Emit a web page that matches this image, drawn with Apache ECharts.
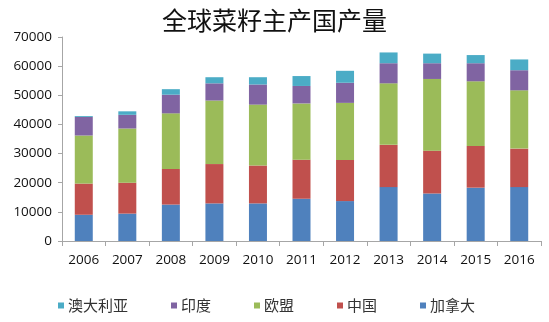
<!DOCTYPE html>
<html><head><meta charset="utf-8">
<script src="https://cdn.jsdelivr.net/npm/echarts@6/dist/echarts.min.js"></script>
<style>html,body{margin:0;padding:0;background:#fff}#c{width:549px;height:322px}</style>
</head><body><div id="c"></div>
<script>
const categories = ['2006','2007','2008','2009','2010','2011','2012','2013','2014','2015','2016'];
const canada    = [9000, 9400, 12500, 12900, 12900, 14500, 13700, 18500, 16300, 18300, 18500];
const china     = [10700, 10600, 12200, 13500, 13000, 13400, 14100, 14500, 14700, 14300, 13200];
const eu        = [16500, 18600, 19100, 21800, 20900, 19300, 19600, 21100, 24600, 22200, 20000];
const india     = [6400, 4700, 6400, 5900, 6900, 6000, 6900, 6900, 5400, 6200, 6900];
const australia = [300, 1200, 1900, 2100, 2500, 3400, 4100, 3700, 3300, 2800, 3700];
const yTicks = [0, 10000, 20000, 30000, 40000, 50000, 60000, 70000];

const chart = echarts.init(document.getElementById('c'));
const font = '"Open Sans", "Liberation Sans", "Noto Sans CJK SC", sans-serif';
function s(name, data, color){
  return {name, type:'bar', stack:'total', data, barWidth:18, itemStyle:{color}};
}
chart.setOption({
  animation:false,
  title:{text:'全球菜籽主产国产量', left:'center', top:3,
    textStyle:{fontFamily:'"Noto Sans CJK SC", sans-serif', fontSize:25, fontWeight:'normal', color:'#111'}},
  grid:{left:62, right:8, top:37, bottom:81},
  legend:{
    data:['澳大利亚','印度','欧盟','中国','加拿大'],
    left:53, top:293, itemWidth:6, itemHeight:6, itemGap:43, icon:'rect',
    textStyle:{fontFamily:'"Noto Sans CJK SC", sans-serif', fontSize:15, color:'#333', padding:[0,0,0,-1]}
  },
  xAxis:{type:'category', data:categories,
    axisLine:{lineStyle:{color:'#a6a6a6'}},
    axisTick:{show:true, alignWithLabel:false, length:5, lineStyle:{color:'#a6a6a6'}},
    axisLabel:{fontFamily:font, fontSize:13.5, color:'#111', margin:12}},
  yAxis:{type:'value', min:yTicks[0], max:yTicks[yTicks.length-1], interval:10000,
    axisLine:{show:true, lineStyle:{color:'#a6a6a6'}},
    axisTick:{show:true, length:4, lineStyle:{color:'#a6a6a6'}},
    splitLine:{show:false},
    axisLabel:{fontFamily:font, fontSize:13.5, color:'#111', margin:10, formatter:v=>String(v)}},
  series:[
    s('加拿大', canada, '#4F81BD'),
    s('中国', china, '#C0504D'),
    s('欧盟', eu, '#9BBB59'),
    s('印度', india, '#8064A2'),
    s('澳大利亚', australia, '#4BACC6')
  ]
});
</script></body></html>
